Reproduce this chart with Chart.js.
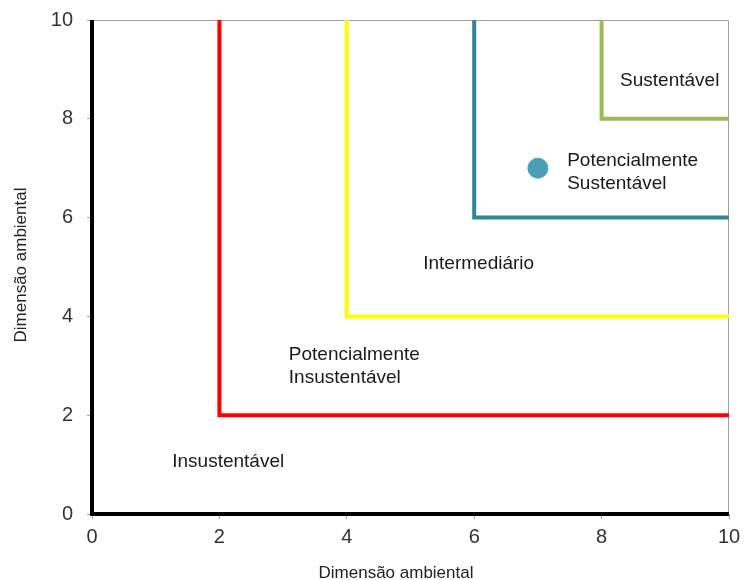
<!DOCTYPE html>
<html>
<head>
<meta charset="utf-8">
<script src="https://cdn.jsdelivr.net/npm/chart.js@4"></script>
<style>
  body { margin: 0; background: #fff; }
  #wrap { width: 744px; height: 580px; }
</style>
</head>
<body>
<div id="wrap"><canvas id="c"></canvas></div>
<script>
// limites das zonas (x = y = limite)
var thresholds = [2, 4, 6, 8];
var lineColors = ['#ff0000', '#ffff00', '#31849b', '#9bbb59'];
// ponto avaliado
var pointX = [7];
var pointY = [7];
// textos das zonas e onde ficam (coordenadas dos dados)
var zoneLabels = [['Insustentável'], ['Potencialmente', 'Insustentável'], ['Intermediário'], ['Potencialmente', 'Sustentável'], ['Sustentável']];
var labelX = [1.26, 3.09, 5.2, 7.46, 8.29];
var labelY = [1.05, 3.0, 5.06, 6.92, 8.76];
var ticks = [0, 2, 4, 6, 8, 10];
var xTitle = 'Dimensão ambiental';
var yTitle = 'Dimensão ambiental';

var FONT = '"Liberation Sans", Arial, sans-serif';

var datasets = thresholds.map(function(t, i) {
  return {
    data: [{x: t, y: 10}, {x: t, y: t}, {x: 10, y: t}],
    showLine: true,
    borderColor: lineColors[i],
    borderWidth: 4,
    pointRadius: 0,
    fill: false,
    tension: 0
  };
});
datasets.push({
  data: pointX.map(function(x, i) { return {x: x, y: pointY[i]}; }),
  backgroundColor: '#4a9fb5',
  borderColor: '#4a9fb5',
  pointRadius: 10,
  showLine: false
});

var zonePlugin = {
  id: 'zones',
  beforeDatasetsDraw: function(chart) {
    var a = chart.chartArea, ctx = chart.ctx;
    ctx.save();
    ctx.strokeStyle = '#a0a0a0';
    ctx.lineWidth = 1;
    ctx.beginPath();
    ctx.moveTo(a.left, a.top + 0.5);
    ctx.lineTo(a.right - 0.5, a.top + 0.5);
    ctx.lineTo(a.right - 0.5, a.bottom);
    ctx.stroke();
    ctx.restore();
  },
  afterDatasetsDraw: function(chart) {
    var ctx = chart.ctx, xs = chart.scales.x, ys = chart.scales.y;
    ctx.save();
    ctx.font = '19px ' + FONT;
    ctx.fillStyle = '#1a1a1a';
    ctx.textAlign = 'left';
    ctx.textBaseline = 'middle';
    zoneLabels.forEach(function(lines, i) {
      var px = xs.getPixelForValue(labelX[i]);
      var py = ys.getPixelForValue(labelY[i]);
      var lh = 23;
      var start = py - (lines.length - 1) * lh / 2;
      lines.forEach(function(l, j) { ctx.fillText(l, px, start + j * lh); });
    });
    // eixos pretos
    ctx.strokeStyle = '#000';
    ctx.lineWidth = 4;
    ctx.beginPath();
    ctx.moveTo(xs.getPixelForValue(0), ys.getPixelForValue(10));
    ctx.lineTo(xs.getPixelForValue(0), ys.getPixelForValue(0));
    ctx.lineTo(xs.getPixelForValue(10), ys.getPixelForValue(0));
    ctx.stroke();
    // titulos dos eixos
    ctx.fillStyle = '#222';
    ctx.font = '17px ' + FONT;
    ctx.textAlign = 'center';
    ctx.textBaseline = 'alphabetic';
    ctx.fillText(xTitle, 396, 578);
    ctx.translate(26, 265);
    ctx.rotate(-Math.PI / 2);
    ctx.fillText(yTitle, 0, 0);
    ctx.restore();
  }
};

new Chart(document.getElementById('c'), {
  type: 'scatter',
  data: { datasets: datasets },
  plugins: [zonePlugin],
  options: {
    responsive: true,
    maintainAspectRatio: false,
    animation: false,
    layout: { padding: { top: 20, right: 15, left: 0, bottom: 0 } },
    plugins: { legend: { display: false }, tooltip: { enabled: false } },
    scales: {
      x: {
        min: 0, max: 10,
        afterBuildTicks: function(s) { s.ticks = ticks.map(function(v) { return {value: v}; }); },
        afterFit: function(s) { s.height = 66; s.paddingLeft = 0; s.paddingRight = 0; },
        grid: { drawOnChartArea: false, color: '#a0a0a0', tickLength: 5 },
        border: { display: false },
        ticks: { color: '#333', font: { size: 20, family: FONT }, padding: 6 }
      },
      y: {
        min: 0, max: 10,
        afterBuildTicks: function(s) { s.ticks = ticks.map(function(v) { return {value: v}; }); },
        afterFit: function(s) { s.width = 92; s.paddingTop = 0; s.paddingBottom = 0; },
        grid: { drawOnChartArea: false, color: '#a0a0a0', tickLength: 5 },
        border: { display: false },
        ticks: { color: '#333', font: { size: 20, family: FONT }, padding: 14 }
      }
    }
  }
});
</script>
</body>
</html>
